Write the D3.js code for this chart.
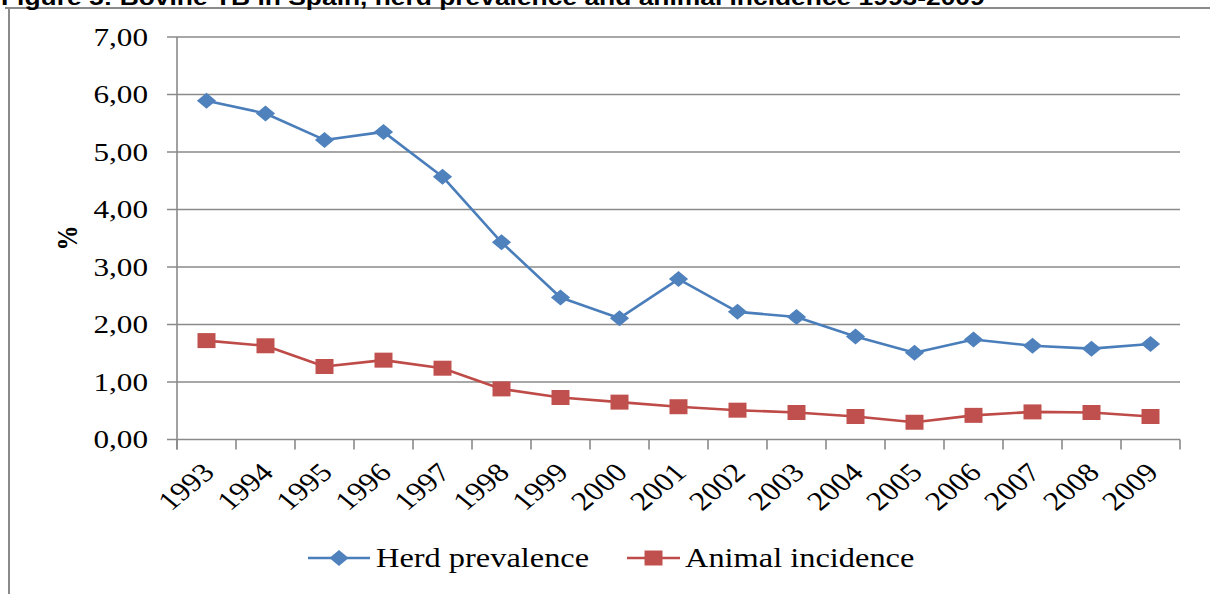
<!DOCTYPE html>
<html>
<head>
<meta charset="utf-8">
<script src="https://cdn.jsdelivr.net/npm/d3@7"></script>
<style>
  body { margin: 0; background: #fff; }
  svg { display: block; }
</style>
</head>
<body>
<svg id="chart" width="1210" height="594"></svg>
<script>
// data
const years = ["1993","1994","1995","1996","1997","1998","1999","2000","2001",
               "2002","2003","2004","2005","2006","2007","2008","2009"];
const herdPrevalence  = [5.89, 5.67, 5.21, 5.35, 4.57, 3.43, 2.47, 2.11, 2.79,
                         2.22, 2.13, 1.79, 1.51, 1.74, 1.63, 1.58, 1.66];
const animalIncidence = [1.72, 1.63, 1.27, 1.38, 1.24, 0.88, 0.73, 0.65, 0.57,
                         0.51, 0.47, 0.40, 0.30, 0.42, 0.48, 0.47, 0.40];
const yTicks = [0, 1, 2, 3, 4, 5, 6, 7];
const seriesNames = ["Herd prevalence", "Animal incidence"];

const svg = d3.select("#chart");
const sx = 1.2; // the original picture is stretched horizontally
const ux = v => v / sx;
const grey = "#8a8a8a";

// frame of the figure
svg.append("line").attr("x1", 5).attr("x2", 1210).attr("y1", 8).attr("y2", 8)
    .attr("stroke", grey).attr("stroke-width", 2);
svg.append("line").attr("x1", 9).attr("x2", 9).attr("y1", 7).attr("y2", 594)
    .attr("stroke", grey).attr("stroke-width", 2);

const root = svg.append("g").attr("transform", `scale(${sx},1)`);

// title, cut at the top like in the original
root.append("text")
    .attr("x", ux(1)).attr("y", 5)
    .style("font-family", "Liberation Sans, Arial, sans-serif")
    .style("font-weight", "bold").style("font-size", "22px")
    .text("Figure 5: Bovine TB in Spain, herd prevalence and animal incidence 1993-2009");

const x = d3.scaleBand().domain(years).range([ux(177), ux(1180)]);
const y = d3.scaleLinear().domain([0, 7]).range([439.5, 37]);

const fmt = d3.formatLocale({decimal: ",", thousands: ".", grouping: [3], currency: ["", ""]}).format(".2f");

// gridlines + y ticks
root.append("g").selectAll("line")
    .data(yTicks)
    .join("line")
    .attr("x1", ux(167)).attr("x2", x.range()[1])
    .attr("y1", d => y(d)).attr("y2", d => y(d))
    .attr("stroke", grey).attr("stroke-width", 1.6)
    .attr("vector-effect", "non-scaling-stroke");

root.append("g").selectAll("text")
    .data(yTicks)
    .join("text")
    .attr("x", ux(148)).attr("y", d => y(d)).attr("dy", "0.33em")
    .attr("text-anchor", "end")
    .style("font-family", "Liberation Serif, Times New Roman, serif")
    .style("font-size", "26px")
    .text(d => fmt(d));

// y axis line
root.append("line")
    .attr("x1", x.range()[0]).attr("x2", x.range()[0])
    .attr("y1", y(7)).attr("y2", y(0) + 10)
    .attr("stroke", grey).attr("stroke-width", 1.6)
    .attr("vector-effect", "non-scaling-stroke");

// x ticks at category boundaries
const bounds = years.map(d => x(d)).concat([x.range()[1]]);
root.append("g").selectAll("line")
    .data(bounds)
    .join("line")
    .attr("x1", d => d).attr("x2", d => d)
    .attr("y1", y(0)).attr("y2", y(0) + 10)
    .attr("stroke", grey).attr("stroke-width", 1.6)
    .attr("vector-effect", "non-scaling-stroke");

root.append("g").selectAll("text")
    .data(years)
    .join("text")
    .attr("transform", d => `translate(${x(d) + x.bandwidth() / 2 + ux(2)},468) rotate(-45)`)
    .attr("dy", "0.33em")
    .attr("text-anchor", "end")
    .style("font-family", "Liberation Serif, Times New Roman, serif")
    .style("font-size", "26.5px")
    .text(d => d);

// y axis title
root.append("text")
    .attr("transform", `translate(${ux(66)},238) rotate(-90)`)
    .attr("dy", "0.35em")
    .attr("text-anchor", "middle")
    .style("font-family", "Liberation Serif, Times New Roman, serif")
    .style("font-weight", "bold").style("font-size", "25px")
    .text("%");

// series
const series = [
  {name: seriesNames[0], values: herdPrevalence, line: "#4a7ebb", fill: "#4f81bd", shape: "diamond", size: 8},
  {name: seriesNames[1], values: animalIncidence, line: "#be4b48", fill: "#c0504d", shape: "square", size: 7.5}
];

const cx = d => x(d) + x.bandwidth() / 2;
const line = d3.line().x(d => cx(d.year)).y(d => y(d.v));

function marker(s) {
  const r = s.size;
  return s.shape === "diamond"
    ? `M0,${-r}L${r},0L0,${r}L${-r},0Z`
    : `M${-r},${-r}H${r}V${r}H${-r}Z`;
}

series.forEach(s => {
  const pts = years.map((yr, i) => ({year: yr, v: s.values[i]}));
  const g = root.append("g");
  g.append("path")
      .datum(pts)
      .attr("d", line)
      .attr("fill", "none")
      .attr("stroke", s.line)
      .attr("stroke-width", 2.6)
      .attr("stroke-linejoin", "round")
      .attr("vector-effect", "non-scaling-stroke");
  g.selectAll("path.m")
      .data(pts)
      .join("path")
      .attr("class", "m")
      .attr("transform", d => `translate(${cx(d.year)},${y(d.v)})`)
      .attr("d", marker(s))
      .attr("fill", s.fill);
});

// legend
const legendPos = [{x0: 308, x1: 370, tx: 376}, {x0: 627, x1: 680, tx: 685}];
series.forEach((s, i) => {
  const p = legendPos[i];
  const g = root.append("g");
  g.append("line")
      .attr("x1", ux(p.x0)).attr("x2", ux(p.x1))
      .attr("y1", 558).attr("y2", 558)
      .attr("stroke", s.line).attr("stroke-width", 2.6)
      .attr("vector-effect", "non-scaling-stroke");
  g.append("path")
      .attr("transform", `translate(${ux((p.x0 + p.x1) / 2)},558)`)
      .attr("d", marker(s))
      .attr("fill", s.fill);
  g.append("text")
      .attr("x", ux(p.tx)).attr("y", 558).attr("dy", "0.33em")
      .style("font-family", "Liberation Serif, Times New Roman, serif")
      .style("font-size", "27px")
      .text(s.name);
});
</script>
</body>
</html>
